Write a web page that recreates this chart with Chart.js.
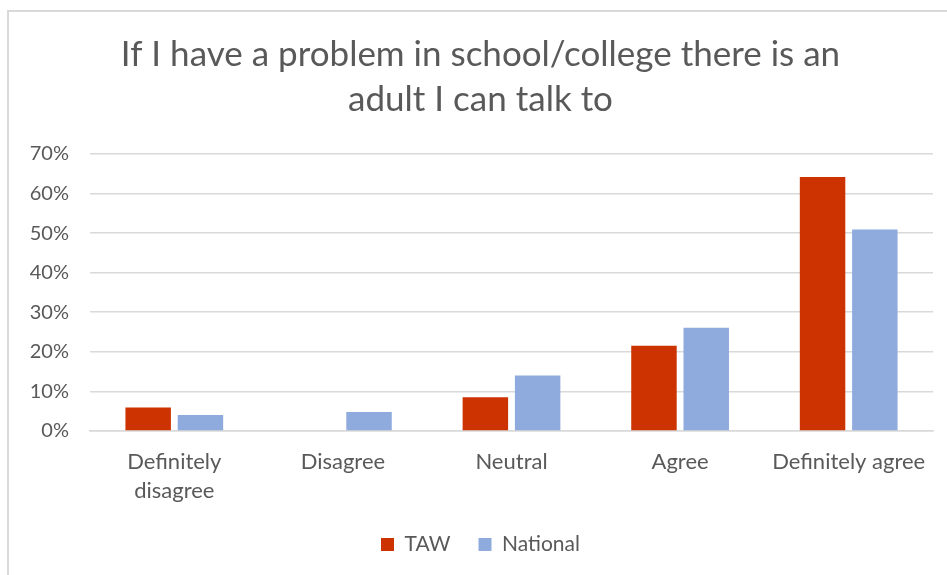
<!DOCTYPE html>
<html>
<head>
<meta charset="utf-8">
<script src="https://cdn.jsdelivr.net/npm/chart.js@4"></script>
<style>
  body { margin: 0; background: #fff; }
  #frame { position: absolute; left: 7px; top: 10px; width: 960px; height: 600px;
           border-left: 2px solid #d9d9d9; border-top: 2px solid #d9d9d9; }
  #grafico { position: absolute; left: 0; top: 0; }
</style>
</head>
<body>
<div id="frame"></div>
<canvas id="grafico" width="947" height="575"></canvas>
<script>
// dados (%)
var categorias = [['Definitely', 'disagree'], 'Disagree', 'Neutral', 'Agree', 'Definitely agree']
var taw = [5.9, 0, 8.5, 21.5, 64.2]
var nacional = [4.0, 4.8, 14.0, 26.1, 50.9]
var titulo = ['If I have a problem in school/college there is an', 'adult I can talk to']

var cinza = '#595959'
var linha = '#d9d9d9'

var config = {
    type: 'bar',
    data: {
        labels: categorias,
        datasets: [{
            label: 'TAW',
            data: taw,
            backgroundColor: '#cc3300',
            categoryPercentage: 0.62,
            barPercentage: 0.87
        }, {
            label: 'National',
            data: nacional,
            backgroundColor: '#8faadc',
            categoryPercentage: 0.62,
            barPercentage: 0.87
        }]
    },
    options: {
        responsive: false,
        animation: false,
        layout: { padding: { left: 28, right: 14, top: 12, bottom: 10 } },
        plugins: {
            title: {
                display: true,
                text: titulo,
                color: cinza,
                font: { family: 'Lato', size: 35, weight: 'normal', lineHeight: 1.286 },
                padding: { top: 20, bottom: 32 }
            },
            legend: {
                position: 'bottom',
                labels: {
                    color: cinza,
                    font: { family: 'Lato', size: 21 },
                    boxWidth: 13,
                    boxHeight: 13,
                    padding: 28
                }
            }
        },
        scales: {
            x: {
                afterFit: function (scale) { scale.height -= 15 },
                grid: { display: false, drawTicks: false },
                border: { color: linha, width: 1.5 },
                ticks: {
                    color: cinza,
                    padding: 16,
                    maxRotation: 0,
                    font: { family: 'Lato', size: 22, lineHeight: 1.32 }
                }
            },
            y: {
                min: 0,
                max: 70,
                afterFit: function (scale) { scale.width = 62 },
                grid: { color: linha, lineWidth: 1.5, drawTicks: false },
                border: { display: false },
                ticks: {
                    stepSize: 10,
                    color: cinza,
                    padding: 21,
                    font: { family: 'Lato', size: 20 },
                    callback: function (v) { return v + '%' }
                }
            }
        }
    }
}

var grafico = new Chart(document.getElementById('grafico'), config)
</script>
</body>
</html>
